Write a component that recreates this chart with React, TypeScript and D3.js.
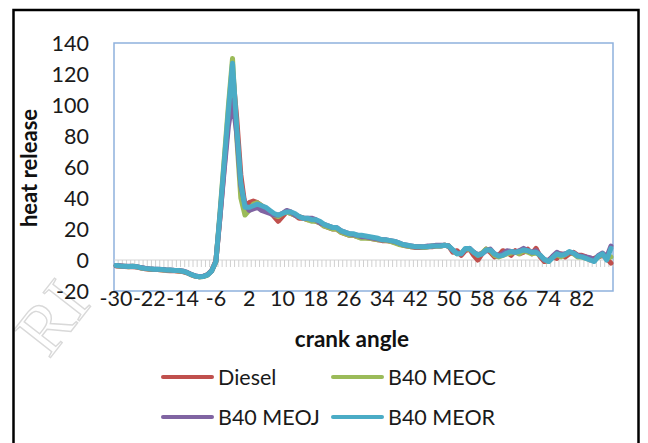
import React from "react";
import * as d3 from "d3";

// Crank angle categories (degrees), one per sample
const crankAngles: number[] = d3.range(-30, 90);

// Heat release per crank angle, one array per fuel
const diesel: number[] = [
  -3.8, -4.0, -4.2, -4.4, -4.3, -4.6, -5.2, -5.6, -5.9, -6.1,
  -6.2, -6.4, -6.7, -6.9, -7.0, -7.2, -7.5, -8.2, -9.4, -10.4,
  -10.8, -10.5, -9.4, -6.8, -0.5, 28, 60, 92, 122, 92,
  55, 35, 37, 38, 37, 35, 33, 31, 28, 25,
  28, 31, 30, 29, 27, 27, 26, 26, 25, 24,
  22, 21, 20, 20, 18, 17, 16, 16, 15, 15,
  14.5, 14, 13.5, 13, 12.5, 12.5, 12, 11.5, 10.5, 9.5,
  9, 8.5, 8, 8, 8, 8.5, 8.5, 9, 9, 9.5,
  9, 5, 6, 3, 6, 7, 3, 0, 4, 7,
  5, 2, 3, 6, 5, 3, 6, 4, 5, 7,
  4, 7.5, 2, -1, 0, 2, 1, 4, 2, 4,
  5, 3, 3, 2, 0, 1, 2, 3, 1, -2,
];

const b40Meoc: number[] = [
  -3.6, -3.9, -4.1, -4.3, -4.1, -4.4, -5.1, -5.5, -5.8, -6.0,
  -6.1, -6.3, -6.5, -6.6, -6.8, -6.9, -7.3, -8.1, -9.4, -10.4,
  -10.9, -10.7, -9.7, -7.1, -1.2, 31, 65, 99, 130, 80,
  40, 29, 32, 36, 37, 35, 33, 31, 29, 28,
  30, 31, 30, 29, 28, 27, 26, 25, 25, 24,
  22, 21, 20, 20, 18, 17, 16, 16, 15, 14,
  14, 14, 13.5, 13, 13, 12.5, 12, 11, 10, 9.5,
  9, 8.5, 8.5, 8.5, 8, 8.5, 9, 9, 9, 9.5,
  9, 6, 4, 4.5, 7, 7, 5, 3, 4.5, 7,
  6, 3, 2, 3, 4, 4.5, 5, 4, 6, 5,
  4, 4.5, 3, 0, -1, 2, 3.5, 2, 3.5, 5,
  4, 2, 2, 1, 0.5, 0, 2, 4, 1, 2,
];

const b40Meoj: number[] = [
  -3.5, -3.7, -4.0, -4.1, -4.0, -4.3, -4.9, -5.3, -5.6, -5.8,
  -5.9, -6.1, -6.3, -6.4, -6.6, -6.7, -7.1, -7.9, -9.2, -10.2,
  -10.7, -10.5, -9.5, -7.0, -1.0, 28, 58, 86, 103, 82,
  48, 36, 32, 33, 34, 32, 31, 30, 29, 29,
  30, 32, 31, 29, 28, 27, 27, 27, 26, 24,
  23, 22, 21, 21, 19, 18, 17, 16.5, 16, 15,
  15, 14.5, 14, 13.5, 13, 13, 12.5, 12, 11, 10,
  9.5, 9, 8.5, 8.5, 8.5, 9, 9, 9.5, 9.5, 9.5,
  9, 6, 4.5, 4, 7, 7.5, 5, 3.5, 4, 6,
  7, 4, 3, 4, 6, 5.5, 5, 6, 7.5, 6,
  5, 6, 3, 0, -0.5, 2.5, 5, 3.5, 4, 5,
  4.5, 3, 2.5, 2, 1.5, 0, 3, 4.5, 2, 9,
];

const b40Meor: number[] = [
  -3.5, -3.8, -4.0, -4.2, -4.0, -4.3, -5.0, -5.4, -5.7, -5.9,
  -6.0, -6.2, -6.4, -6.5, -6.7, -6.8, -7.2, -8.0, -9.3, -10.3,
  -10.8, -10.6, -9.6, -7.0, -1.0, 30, 63, 96, 127, 86,
  50, 34, 34, 35, 36, 35, 34, 32, 30, 29,
  30, 31, 31, 30, 28, 27, 27, 26, 26, 25,
  23, 22, 21, 21, 19, 18, 17, 17, 16, 16,
  15.5, 15, 14.5, 14, 13, 13, 12.5, 12, 11, 10,
  9.5, 9, 8.5, 8.5, 8.5, 8.5, 9, 9, 9, 9.5,
  9, 6.5, 4, 4, 7.5, 7.5, 5, 3, 4, 6.5,
  6.5, 4, 2.5, 3, 4.5, 5.5, 5, 5.5, 6.5, 6,
  5, 5, 3, 0.5, -1, 1.5, 4, 3, 3.5, 5.5,
  4.5, 2.5, 2, 1, 0, -1, 2.5, 4, 0, 7.5,
];

const seriesNames: string[] = ["Diesel", "B40 MEOC", "B40 MEOJ", "B40 MEOR"];
const seriesColors: string[] = ["#C0504D", "#9BBB59", "#8064A2", "#4BACC6"];
const seriesValues: number[][] = [diesel, b40Meoc, b40Meoj, b40Meor];

const yTicks: number[] = [-20, 0, 20, 40, 60, 80, 100, 120, 140];
const xLabelEvery = 8;

const FONT = "Lato, 'Liberation Sans', sans-serif";
const LABEL_SIZE = 21.5;

export default function App() {
  const plot = { left: 114, right: 613, top: 43, bottom: 291 };

  const x = d3
    .scaleBand<number>()
    .domain(crankAngles)
    .range([plot.left, plot.right]);
  const bw = x.bandwidth();
  const cx = (c: number) => (x(c) as number) + bw / 2;

  const y = d3.scaleLinear().domain([-20, 140]).range([plot.bottom, plot.top]);
  const y0 = y(0);

  const line = d3
    .line<number>()
    .x((_, i) => cx(crankAngles[i]))
    .y((v) => y(v))
    .curve(d3.curveLinear);

  const legendRows = [
    [0, 1],
    [2, 3],
  ];
  const legendColX = [163, 333];
  const legendRowY = [377, 417];

  return (
    <svg
      width={648}
      height={443}
      style={{ position: "absolute", left: 0, top: 0, background: "#fff" }}
      fontFamily={FONT}
    >
      <rect x={0} y={0} width={648} height={443} fill="#fff" />

      {/* faint outlined stamp in the lower-left corner */}
      <text
        transform="translate(58,322) rotate(-52)"
        textAnchor="middle"
        dominantBaseline="middle"
        fontFamily="'Liberation Serif', serif"
        fontSize={70}
        fill="none"
        stroke="#d9d9d9"
        strokeWidth={1.4}
      >
        RI
      </text>

      {/* chart frame */}
      <rect x={13.5} y={10} width={625} height={450} fill="none" stroke="#000" strokeWidth={2.5} />

      {/* plot area */}
      <rect
        x={plot.left}
        y={plot.top}
        width={plot.right - plot.left}
        height={plot.bottom - plot.top}
        fill="none"
        stroke="#8EB1DD"
        strokeWidth={1.5}
      />

      {/* category axis through zero with tick marks */}
      <line x1={plot.left} x2={plot.right} y1={y0} y2={y0} stroke="#D4D4D4" strokeWidth={1} />
      {crankAngles.map((c) => (
        <line
          key={"t" + c}
          x1={(x(c) as number) + bw}
          x2={(x(c) as number) + bw}
          y1={y0}
          y2={y0 + 7}
          stroke="#D0D0D0"
          strokeWidth={1}
        />
      ))}

      {/* value axis labels */}
      {yTicks.map((t) => (
        <text
          key={"y" + t}
          x={89}
          y={y(t)}
          dy="0.36em"
          textAnchor="end"
          fontSize={LABEL_SIZE}
          fill="#1a1a1a"
        >
          {t}
        </text>
      ))}

      {/* category labels */}
      {crankAngles
        .filter((_, i) => i % xLabelEvery === 0)
        .map((c) => (
          <text
            key={"x" + c}
            x={cx(c)}
            y={298}
            dy="0.36em"
            textAnchor="middle"
            fontSize={LABEL_SIZE}
            fill="#1a1a1a"
          >
            {c}
          </text>
        ))}

      {/* series */}
      {seriesValues.map((vals, si) => (
        <path
          key={"s" + si}
          d={line(vals) as string}
          fill="none"
          stroke={seriesColors[si]}
          strokeWidth={5}
          strokeLinejoin="round"
          strokeLinecap="round"
        />
      ))}

      {/* axis titles */}
      <text x={352} y={339} dy="0.36em" textAnchor="middle" fontSize={22.5} fontWeight="bold" fill="#111">
        crank angle
      </text>
      <text
        transform={`translate(29,168) rotate(-90)`}
        dy="0.36em"
        textAnchor="middle"
        fontSize={22}
        fontWeight="bold"
        fill="#111"
      >
        heat release
      </text>

      {/* legend */}
      {legendRows.map((row, ri) =>
        row.map((si, ci) => (
          <g key={"l" + si}>
            <line
              x1={legendColX[ci]}
              x2={legendColX[ci] + 49}
              y1={legendRowY[ri]}
              y2={legendRowY[ri]}
              stroke={seriesColors[si]}
              strokeWidth={4}
              strokeLinecap="round"
            />
            <text
              x={legendColX[ci] + 55}
              y={legendRowY[ri]}
              dy="0.36em"
              fontSize={LABEL_SIZE}
              fill="#1a1a1a"
            >
              {seriesNames[si]}
            </text>
          </g>
        ))
      )}
    </svg>
  );
}
